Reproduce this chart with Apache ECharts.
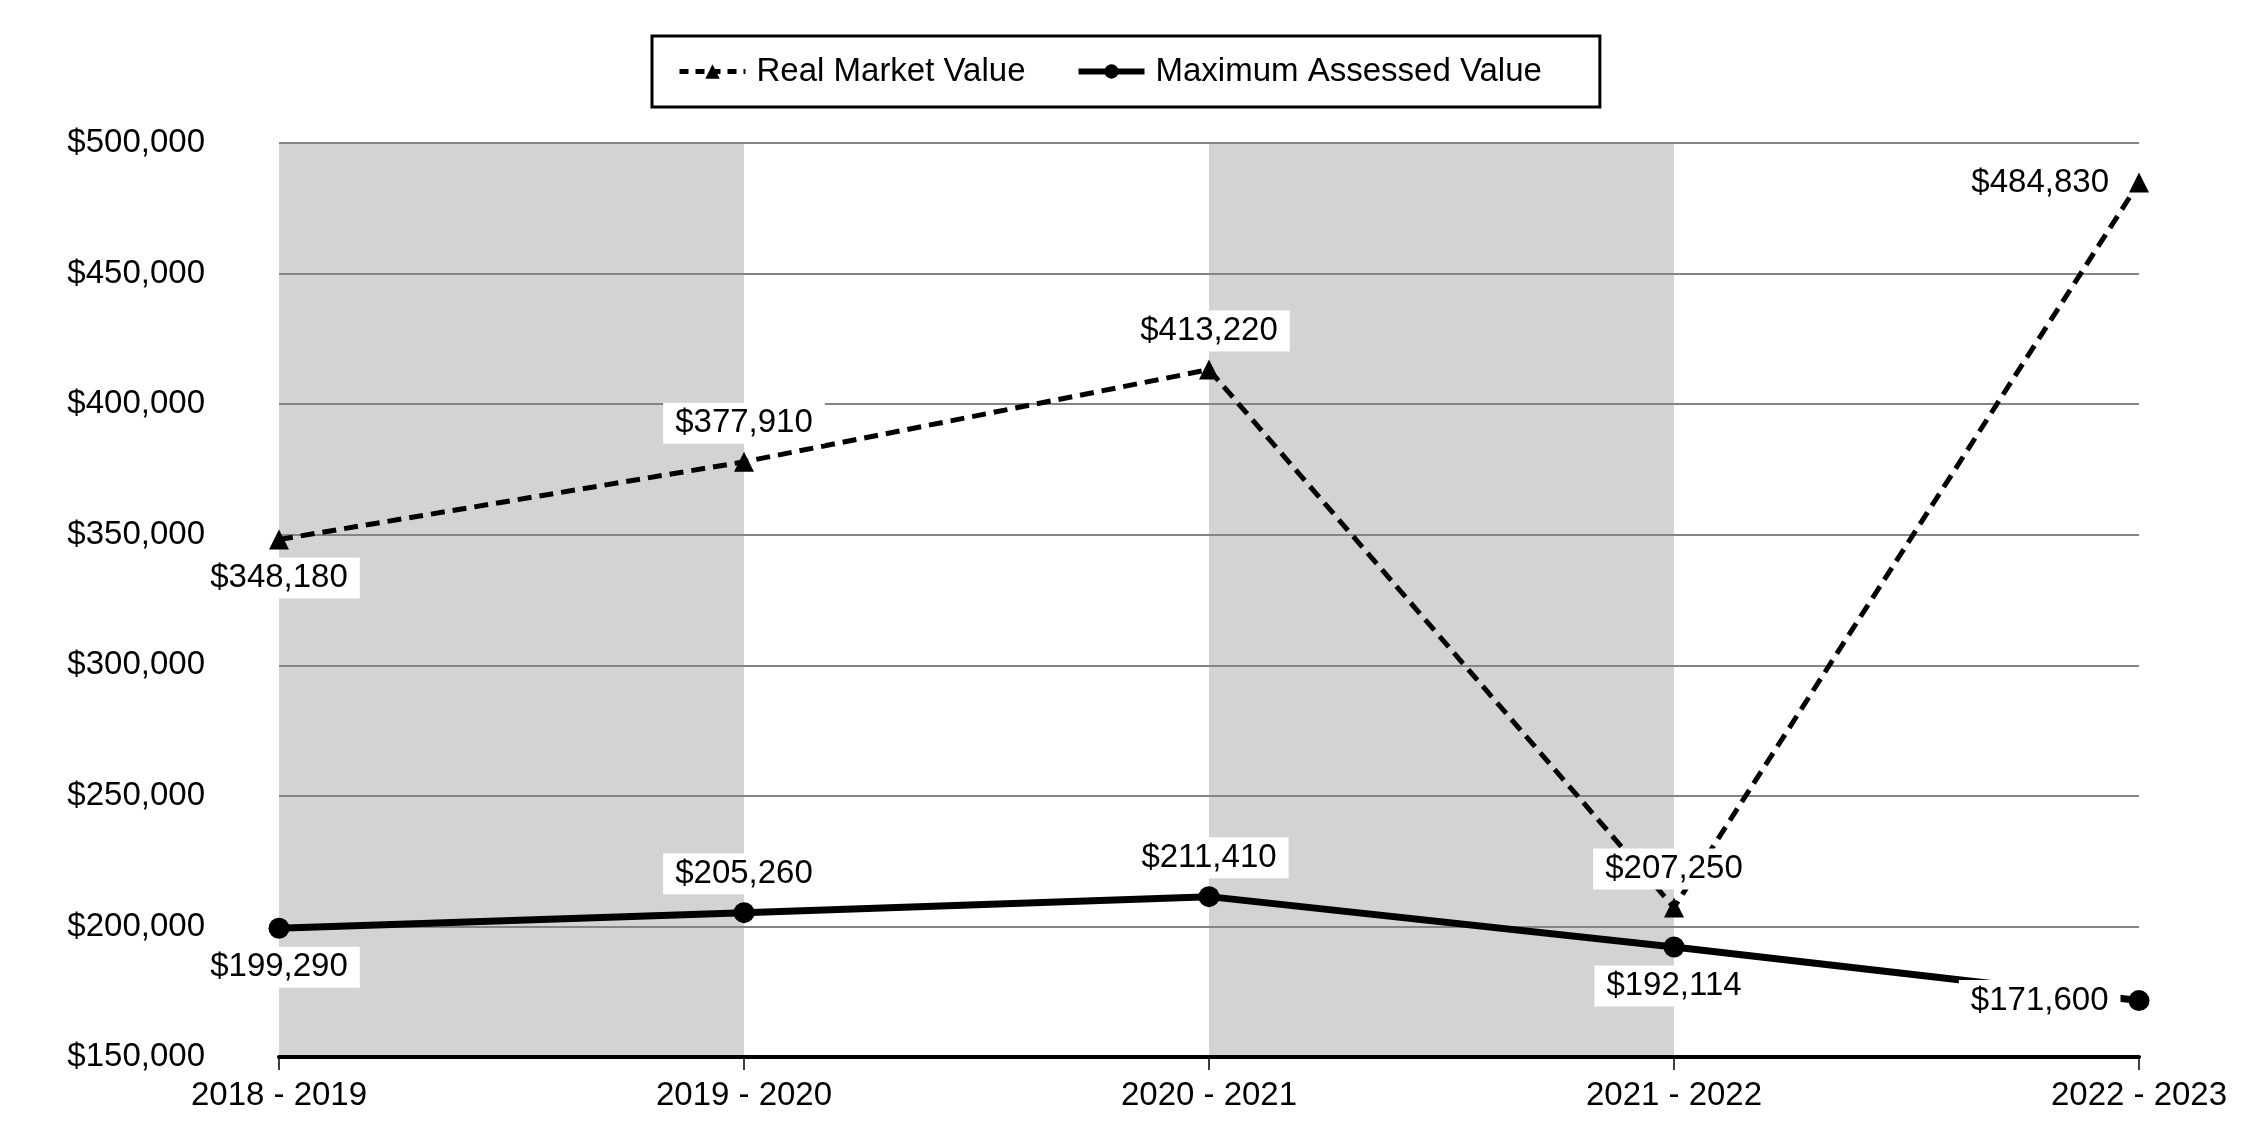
<!DOCTYPE html>
<html>
<head>
<meta charset="utf-8">
<script src="https://cdn.jsdelivr.net/npm/echarts@6/dist/echarts.min.js"></script>
<style>
html,body{margin:0;padding:0;background:#fff;}
#chart{width:2250px;height:1140px;}
</style>
</head>
<body>
<div id="chart"></div>
<script>
var categories = ['2018 - 2019', '2019 - 2020', '2020 - 2021', '2021 - 2022', '2022 - 2023'];
var realMarketValue = [348180, 377910, 413220, 207250, 484830];
var maxAssessedValue = [199290, 205260, 211410, 192114, 171600];
var yTicks = [150000, 200000, 250000, 300000, 350000, 400000, 450000, 500000];

var rmvLabelPos = ['bottom', 'top', 'top', 'top', 'left'];
var mavLabelPos = ['bottom', 'top', 'top', 'bottom', 'left'];

var FONT = '"Liberation Sans", Arial, sans-serif';

function money(v) { return '$' + Number(v).toLocaleString('en-US'); }

function buildData(values, positions) {
  return values.map(function (v, i) {
    return { value: v, label: { position: positions[i] } };
  });
}

var labelStyle = {
  show: true,
  formatter: function (p) { return money(p.value); },
  color: '#000',
  fontFamily: FONT,
  fontSize: 33,
  backgroundColor: '#ffffff',
  padding: [4, 12],
  distance: 8
};

var chart = echarts.init(document.getElementById('chart'));
chart.setOption({
  animation: false,
  backgroundColor: '#ffffff',
  textStyle: { fontFamily: FONT },
  legend: {
    top: 36,
    left: 652,
    borderColor: '#000',
    borderWidth: 3,
    padding: [19, 58, 19, 25],
    itemGap: 50,
    itemWidth: 66,
    itemHeight: 18,
    textStyle: { color: '#000', fontSize: 33, fontFamily: FONT, padding: [0, 0, 0, 6] },
    data: [
      { name: 'Real Market Value', lineStyle: { width: 5, type: [9, 7] } },
      { name: 'Maximum Assessed Value', lineStyle: { width: 6, type: 'solid' } }
    ]
  },
  grid: { left: 279, right: 111, top: 143, bottom: 83 },
  xAxis: {
    type: 'category',
    data: categories,
    boundaryGap: false,
    z: 0,
    axisLine: { show: true, lineStyle: { color: '#000', width: 4 } },
    axisTick: { show: true, length: 13, lineStyle: { color: '#000', width: 1.5 } },
    axisLabel: { color: '#000', fontSize: 33, fontFamily: FONT, margin: 22 },
    splitLine: { show: false },
    splitArea: { show: true, areaStyle: { color: ['#d3d3d3', '#ffffff'] } }
  },
  yAxis: {
    type: 'value',
    min: yTicks[0],
    max: yTicks[yTicks.length - 1],
    interval: 50000,
    z: 1,
    axisLine: { show: false },
    axisTick: { show: false },
    axisLabel: { color: '#000', fontSize: 33, fontFamily: FONT, margin: 74, formatter: function (v) { return money(v); } },
    splitLine: { show: true, showMinLine: false, lineStyle: { color: '#858585', width: 2 } }
  },
  series: [
    {
      name: 'Real Market Value',
      type: 'line',
      data: buildData(realMarketValue, rmvLabelPos),
      symbol: 'triangle',
      symbolSize: 20,
      lineStyle: { color: '#000', width: 5, type: [14, 8] },
      itemStyle: { color: '#000' },
      label: labelStyle,
      z: 3
    },
    {
      name: 'Maximum Assessed Value',
      type: 'line',
      data: buildData(maxAssessedValue, mavLabelPos),
      symbol: 'circle',
      symbolSize: 21,
      lineStyle: { color: '#000', width: 7, type: 'solid' },
      itemStyle: { color: '#000' },
      label: labelStyle,
      z: 3
    }
  ]
});
</script>
</body>
</html>
